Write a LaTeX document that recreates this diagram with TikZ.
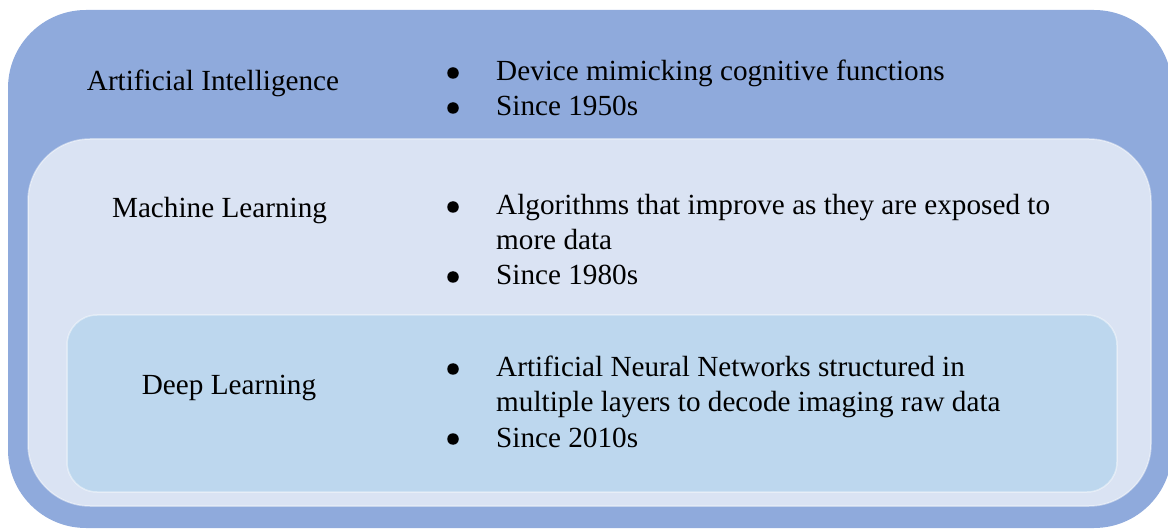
\documentclass[tikz,border=0pt]{standalone}
\usepackage{fontspec}
\setmainfont{Liberation Serif}
\usetikzlibrary{positioning}

\definecolor{AIblue}{HTML}{8FAADC}
\definecolor{MLblue}{HTML}{DAE3F3}
\definecolor{DLblue}{HTML}{BDD7EE}

\begin{document}
\begin{tikzpicture}[x=1pt, y=-1pt]
	\tikzstyle{Label} = [font=\fontsize{29.2}{35}\selectfont, inner sep=0pt, anchor=base]
	\tikzstyle{Item}  = [font=\fontsize{29.2}{35}\selectfont, inner sep=0pt, anchor=base west]
	\tikzstyle{Dot}   = [circle, fill=black, inner sep=0pt, minimum size=11.5pt]
	\tikzstyle{Edge}  = [draw=white, draw opacity=0.45, line width=1.5pt]

	\useasboundingbox (0,0) rectangle (1168,529);

	% nested boxes
	\fill[AIblue, rounded corners=78pt] (8,10) rectangle (1172,528);
	\path[fill=MLblue, Edge, rounded corners=62pt] (28,139) rectangle (1151,506);
	\path[fill=DLblue, Edge, rounded corners=30pt] (67,315) rectangle (1117,492);

	% artificial intelligence
	\node (ai) at (213,91) [Label] {Artificial Intelligence};
	\node (ai1d) at (453,73) [Dot] {};
	\node (ai1) at (496,81) [Item] {Device mimicking cognitive functions};
	\node (ai2d) at (453,108) [Dot] {};
	\node (ai2) at (496,116) [Item] {Since 1950s};

	% machine learning
	\node (ml) at (219.5,218) [Label] {Machine Learning};
	\node (ml1d) at (453,207) [Dot] {};
	\node (ml1) at (496,215) [Item] {Algorithms that improve as they are exposed to};
	\node (ml1b) at (496,250) [Item] {more data};
	\node (ml2d) at (453,277) [Dot] {};
	\node (ml2) at (496,285) [Item] {Since 1980s};

	% deep learning
	\node (dl) at (229,395) [Label] {Deep Learning};
	\node (dl1d) at (453,369) [Dot] {};
	\node (dl1) at (496,377) [Item] {Artificial Neural Networks structured in};
	\node (dl1b) at (496,412) [Item] {multiple layers to decode imaging raw data};
	\node (dl2d) at (453,439) [Dot] {};
	\node (dl2) at (496,447) [Item] {Since 2010s};
\end{tikzpicture}
\end{document}
